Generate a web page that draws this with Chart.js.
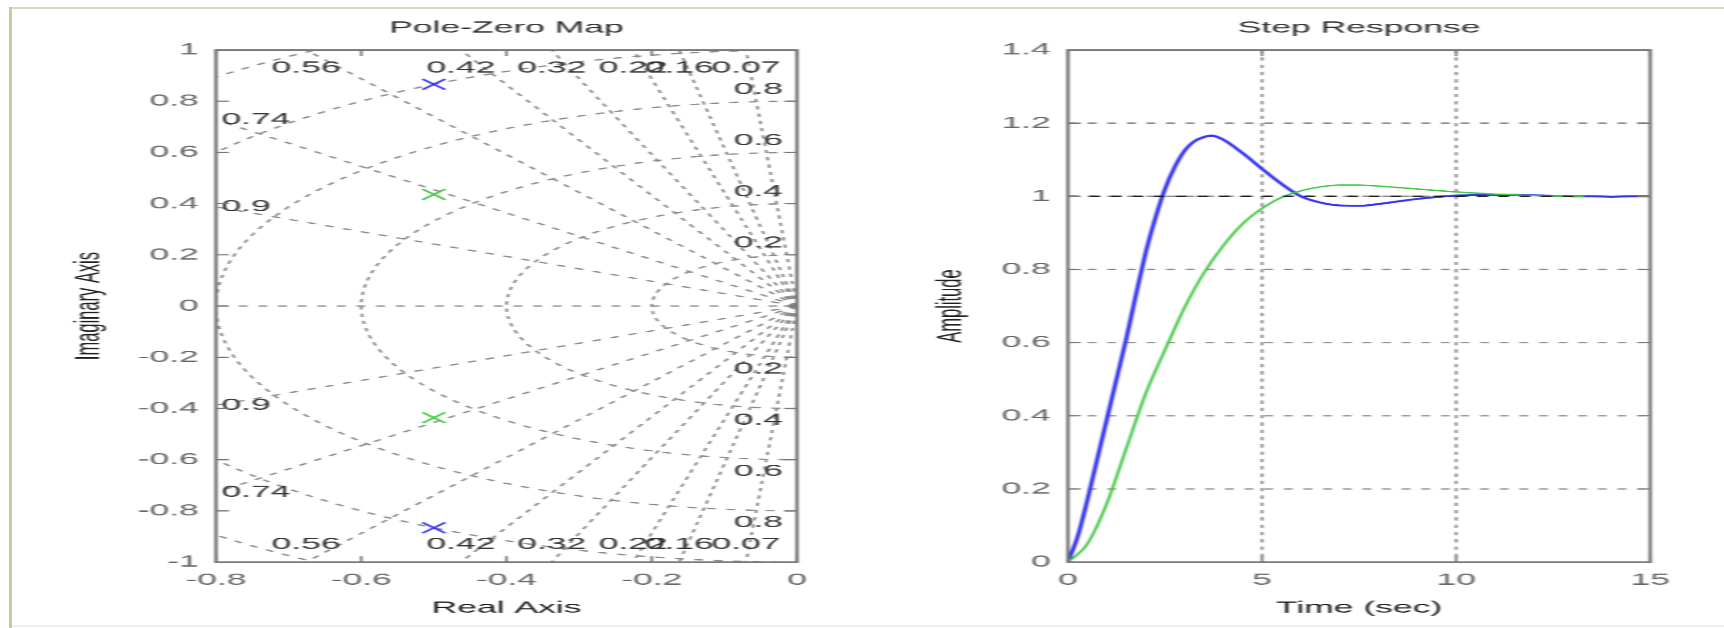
<!DOCTYPE html>
<html>
<head>
<meta charset="utf-8">
<title>Pole-Zero Map / Step Response</title>
<script src="https://cdn.jsdelivr.net/npm/chart.js@4.4.0/dist/chart.umd.min.js"></script>
<style>
  html, body { margin: 0; padding: 0; background: #fff; overflow: hidden; }
  #page { position: relative; width: 1724px; height: 628px; background: #fff; overflow: hidden; }
  #frameTop { position: absolute; left: 10px; top: 7px; width: 1714px; height: 2px; background: #cde2b1; }
  #frameLeft { position: absolute; left: 9px; top: 7px; width: 3px; height: 621px; background: #bcd1a0; }
  #frameBottom { position: absolute; left: 12px; top: 625px; width: 1712px; height: 2px; background: #eeeef4; }
  /* the figure is laid out in a narrow frame and widened horizontally */
  #stage { position: absolute; left: 0; top: 0; width: 802px; height: 628px;
           transform: scaleX(2.15); transform-origin: 0 0; filter: blur(0.45px); }
  #pz   { position: absolute; left: 0;     top: 0; }
  #step { position: absolute; left: 420px; top: 0; }
</style>
</head>
<body>
<div id="page">
  <div id="frameTop"></div>
  <div id="frameLeft"></div>
  <div id="frameBottom"></div>
  <div id="stage">
    <canvas id="pz" width="420" height="628"></canvas>
    <canvas id="step" width="382" height="628"></canvas>
  </div>
</div>
<script>
// ---------- pole locations ----------
const bluePolesRe  = [-0.5, -0.5];
const bluePolesIm  = [0.866, -0.866];
const greenPolesRe = [-0.5, -0.5];
const greenPolesIm = [0.436, -0.436];

// ---------- s-plane grid values ----------
const dampingRatios   = [0.07, 0.16, 0.22, 0.32, 0.42, 0.56, 0.74, 0.9];
const naturalFreqs    = [0.2, 0.4, 0.6, 0.8, 1.0, 1.2];
const freqLabelValues = [0.2, 0.4, 0.6, 0.8];

// ---------- pole-zero axes ----------
const realTicks = [-0.8, -0.6, -0.4, -0.2, 0];
const imagTicks = [-1, -0.8, -0.6, -0.4, -0.2, 0, 0.2, 0.4, 0.6, 0.8, 1];

// ---------- step responses ----------
const blueTime = [0, 0.25, 0.5, 0.75, 1.0, 1.25, 1.5, 1.75, 2.0, 2.25, 2.5, 2.75, 3.0, 3.25, 3.5, 3.7,
                  4.0, 4.5, 5.0, 5.5, 6.0, 6.5, 7.0, 7.5, 8.0, 8.5, 9.0, 9.5, 10, 10.5, 11, 11.5,
                  12, 12.5, 13, 13.5, 14, 14.5, 15];
const blueAmp  = [0, 0.07, 0.17, 0.28, 0.39, 0.50, 0.61, 0.73, 0.845, 0.94, 1.02, 1.08, 1.124, 1.15, 1.162, 1.166,
                  1.155, 1.118, 1.075, 1.034, 1.0, 0.983, 0.975, 0.974, 0.979, 0.986, 0.993, 0.998, 1.002, 1.004, 1.004, 1.004,
                  1.003, 1.001, 1.0, 1.0, 0.999, 1.0, 1.0];
const greenTime = [0, 0.5, 1, 1.5, 2, 2.5, 3, 3.5, 4, 4.5, 5, 5.5, 6, 6.5, 7, 7.5, 8, 8.5, 9, 9.5,
                   10, 10.5, 11, 11.5, 12, 12.5, 13, 13.3];
const greenAmp  = [0, 0.05, 0.16, 0.31, 0.46, 0.58, 0.695, 0.79, 0.865, 0.925, 0.967, 0.997, 1.015, 1.026, 1.031, 1.031,
                   1.028, 1.024, 1.02, 1.016, 1.012, 1.009, 1.006, 1.004, 1.002, 1.001, 1.0, 1.0];
const finalTime = [0, 13.3];
const finalAmp  = [1, 1];

// ---------- step axes ----------
const timeTicks = [0, 5, 10, 15];
const ampTicks  = [0, 0.2, 0.4, 0.6, 0.8, 1.0, 1.2, 1.4];

// ---------- styling ----------
const FONT = "'Liberation Sans', Arial, Helvetica, sans-serif";
const FONT_SIZE = 16.5;
const TICK_COLOR = '#666666';
const LABEL_COLOR = '#1e1e1e';
const TITLE_COLOR = '#2e2e2e';
const GRIDLABEL_COLOR = '#333333';
const BOX_COLOR = '#777777';
const GRID_COLOR = '#8a8a8a';
const BLUE = '#3535f0';
const GREEN = '#40c640';

Chart.defaults.font.family = FONT;

const fmt = v => {
  const r = Math.round(v * 100) / 100;
  return (Object.is(r, -0) ? 0 : r).toString();
};
const pairs = (xs, ys) => xs.map((x, i) => ({ x: x, y: ys[i] }));
const fixedTicks = list => scale => { scale.ticks = list.map(v => ({ value: v })); };

// dotted line whose dots stretch along the horizontal direction
function dottedPath(ctx, pts, period, on, ax) {
  let phase = 0;
  ctx.beginPath();
  for (let i = 1; i < pts.length; i++) {
    const x0 = pts[i - 1][0], y0 = pts[i - 1][1];
    const dx = pts[i][0] - x0, dy = pts[i][1] - y0;
    const len = Math.hypot(dx * ax, dy);
    if (len === 0) continue;
    let s = 0;
    while (s < len) {
      const inOn = phase < on;
      const step = Math.min(inOn ? on - phase : period - phase, len - s);
      if (inOn) {
        const f0 = s / len, f1 = (s + step) / len;
        ctx.moveTo(x0 + dx * f0, y0 + dy * f0);
        ctx.lineTo(x0 + dx * f1, y0 + dy * f1);
      }
      s += step;
      phase += step;
      if (phase >= period) phase -= period;
    }
  }
  ctx.stroke();
}
const DOT = { period: 7.3, on: 3.3, ax: 0.8 };

// axes box with inward tick marks on all four sides
const axesBox = {
  id: 'axesBox',
  afterDatasetsDraw(chart) {
    const { ctx, chartArea: a, scales } = chart;
    ctx.save();
    ctx.strokeStyle = BOX_COLOR;
    ctx.lineWidth = 1.2;
    ctx.beginPath();
    scales.x.ticks.forEach(t => {
      const px = scales.x.getPixelForValue(t.value);
      ctx.moveTo(px, a.bottom); ctx.lineTo(px, a.bottom - 6);
      ctx.moveTo(px, a.top);    ctx.lineTo(px, a.top + 6);
    });
    scales.y.ticks.forEach(t => {
      const py = scales.y.getPixelForValue(t.value);
      ctx.moveTo(a.left, py);  ctx.lineTo(a.left + 6, py);
      ctx.moveTo(a.right, py); ctx.lineTo(a.right - 6, py);
    });
    ctx.stroke();
    ctx.lineWidth = 1.6;
    ctx.strokeRect(a.left, a.top, a.right - a.left, a.bottom - a.top);
    ctx.restore();
  }
};

// rectangular grid for the step response
const stepGrid = {
  id: 'stepGrid',
  beforeDatasetsDraw(chart) {
    const { ctx, chartArea: a, scales } = chart;
    ctx.save();
    ctx.strokeStyle = GRID_COLOR;
    ctx.lineWidth = 1.3;
    scales.x.ticks.forEach(t => {
      const px = scales.x.getPixelForValue(t.value);
      if (px <= a.left + 1 || px >= a.right - 1) return;
      dottedPath(ctx, [[px, a.top], [px, a.bottom]], DOT.period, DOT.on, DOT.ax);
    });
    scales.y.ticks.forEach(t => {
      const py = scales.y.getPixelForValue(t.value);
      if (py <= a.top + 1 || py >= a.bottom - 1) return;
      dottedPath(ctx, [[a.left, py], [a.right, py]], DOT.period, DOT.on, DOT.ax);
    });
    ctx.restore();
  }
};

// damping rays and natural-frequency arcs of the s-plane
const sGrid = {
  id: 'sGrid',
  beforeDatasetsDraw(chart) {
    const { ctx, chartArea: a, scales } = chart;
    const X = v => scales.x.getPixelForValue(v);
    const Y = v => scales.y.getPixelForValue(v);
    const xMin = scales.x.min, yMax = scales.y.max;
    ctx.save();
    ctx.beginPath();
    ctx.rect(a.left, a.top, a.right - a.left, a.bottom - a.top);
    ctx.clip();
    ctx.strokeStyle = GRID_COLOR;
    ctx.lineWidth = 1.3;

    // constant natural frequency: half circles in the left half plane
    naturalFreqs.forEach(w => {
      const pts = [];
      for (let k = 0; k <= 240; k++) {
        const th = Math.PI / 2 + Math.PI * k / 240;
        pts.push([X(w * Math.cos(th)), Y(w * Math.sin(th))]);
      }
      dottedPath(ctx, pts, DOT.period, DOT.on, DOT.ax);
    });

    // constant damping: rays from the origin
    dampingRatios.concat([1]).forEach(z => {
      const s = Math.sqrt(1 - z * z);
      [1, -1].forEach(sign => {
        if (z === 1 && sign < 0) return;
        const pts = [];
        for (let k = 0; k <= 60; k++) {
          const r = 2 * k / 60;
          pts.push([X(-z * r), Y(sign * s * r)]);
        }
        dottedPath(ctx, pts, DOT.period, DOT.on, DOT.ax);
      });
    });

    // damping and frequency labels
    ctx.fillStyle = GRIDLABEL_COLOR;
    ctx.font = FONT_SIZE + 'px ' + FONT;
    ctx.textBaseline = 'middle';
    dampingRatios.forEach(z => {
      const s = Math.sqrt(1 - z * z);
      const xTop = -z / s * yMax;
      [1, -1].forEach(sign => {
        if (xTop >= xMin) {
          ctx.textAlign = 'center';
          ctx.fillText(fmt(z), X(xTop), Y(sign * 0.93 * yMax));
        } else {
          const yLeft = xMin * s / -z;
          ctx.textAlign = 'left';
          ctx.fillText(fmt(z), a.left + 2.5, Y(sign * yLeft));
        }
      });
    });
    ctx.textAlign = 'right';
    freqLabelValues.forEach(w => {
      ctx.fillText(fmt(w), a.right - 6.5, Y(w + 0.046));
      ctx.fillText(fmt(w), a.right - 6.5, Y(-w - 0.046));
    });
    ctx.restore();
  }
};

const tickFont = { family: FONT, size: FONT_SIZE };
const labelFont = { family: FONT, size: FONT_SIZE };

function baseOptions(title, xTitle, yTitle, yTitlePad, yWidth, rightPad) {
  return {
    responsive: false,
    animation: false,
    devicePixelRatio: 2.15,
    events: [],
    layout: { padding: { left: 0, right: rightPad, top: 0, bottom: 0 } },
    plugins: {
      legend: { display: false },
      tooltip: { enabled: false },
      title: {
        display: true, text: title, fullSize: false, color: TITLE_COLOR,
        font: { family: FONT, size: FONT_SIZE, weight: 'normal' },
        padding: { top: 18.1, bottom: 12.1 }
      }
    },
    scales: {
      x: {
        type: 'linear', position: 'bottom',
        afterFit: s => { s.height = 66; },
        grid: { display: false, drawTicks: false },
        border: { display: false },
        ticks: { color: TICK_COLOR, font: tickFont, padding: 8, maxRotation: 0, autoSkip: false, callback: fmt },
        title: { display: true, text: xTitle, color: LABEL_COLOR, font: labelFont, padding: { top: 4, bottom: 10.1 } }
      },
      y: {
        type: 'linear', position: 'left',
        afterFit: s => { s.width = yWidth; },
        grid: { display: false, drawTicks: false },
        border: { display: false },
        ticks: { color: TICK_COLOR, font: tickFont, padding: 8, autoSkip: false, callback: fmt },
        title: { display: true, text: yTitle, color: LABEL_COLOR, font: labelFont, padding: { top: yTitlePad, bottom: 4 } }
      }
    }
  };
}

// ---------- pole-zero map ----------
const pzOptions = baseOptions('Pole-Zero Map', 'Real Axis', 'Imaginary Axis', 31.7, 100.47, 49.3);
pzOptions.scales.x.min = -0.8; pzOptions.scales.x.max = 0;
pzOptions.scales.x.afterBuildTicks = fixedTicks(realTicks);
pzOptions.scales.y.min = -1; pzOptions.scales.y.max = 1;
pzOptions.scales.y.afterBuildTicks = fixedTicks(imagTicks);

new Chart(document.getElementById('pz'), {
  type: 'scatter',
  data: {
    datasets: [
      { label: 'poles 1', data: pairs(bluePolesRe, bluePolesIm), pointStyle: 'crossRot',
        pointRadius: 7.5, borderWidth: 1.4, borderColor: BLUE, backgroundColor: BLUE },
      { label: 'poles 2', data: pairs(greenPolesRe, greenPolesIm), pointStyle: 'crossRot',
        pointRadius: 7.5, borderWidth: 1.4, borderColor: GREEN, backgroundColor: GREEN }
    ]
  },
  options: pzOptions,
  plugins: [sGrid, axesBox]
});

// ---------- step response ----------
const stepOptions = baseOptions('Step Response', 'Time (sec)', 'Amplitude', 12.6, 76.7, 34.6);
stepOptions.scales.x.min = 0; stepOptions.scales.x.max = 15;
stepOptions.scales.x.afterBuildTicks = fixedTicks(timeTicks);
stepOptions.scales.y.min = 0; stepOptions.scales.y.max = 1.4;
stepOptions.scales.y.afterBuildTicks = fixedTicks(ampTicks);

new Chart(document.getElementById('step'), {
  type: 'scatter',
  data: {
    datasets: [
      { label: 'final value', data: pairs(finalTime, finalAmp), showLine: true, pointRadius: 0,
        borderColor: '#1c1c1c', borderWidth: 1.4, borderDash: [5, 5] },
      { label: 'system 2', data: pairs(greenTime, greenAmp), showLine: true, pointRadius: 0,
        borderColor: GREEN, borderWidth: 1.4, cubicInterpolationMode: 'monotone' },
      { label: 'system 1', data: pairs(blueTime, blueAmp), showLine: true, pointRadius: 0,
        borderColor: BLUE, borderWidth: 2, cubicInterpolationMode: 'monotone' }
    ]
  },
  options: stepOptions,
  plugins: [stepGrid, axesBox]
});
</script>
</body>
</html>
